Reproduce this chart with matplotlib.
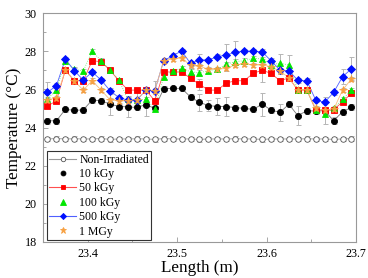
import numpy as np
import matplotlib
matplotlib.use("Agg")
import matplotlib.pyplot as plt
from matplotlib.lines import Line2D
from matplotlib.ticker import MultipleLocator

plt.rcParams['font.family'] = ['Liberation Serif', 'DejaVu Serif']

# sensor positions along the fibre (m)
length = [23.355, 23.365, 23.375, 23.385, 23.395, 23.405, 23.415, 23.425, 23.435,
          23.445, 23.455, 23.465, 23.475, 23.485, 23.495, 23.505, 23.515, 23.525,
          23.535, 23.545, 23.555, 23.565, 23.575, 23.585, 23.595, 23.605, 23.615,
          23.625, 23.635, 23.645, 23.655, 23.665, 23.675, 23.685, 23.695]

t_non = [23.40, 23.42, 23.40, 23.41, 23.40, 23.40, 23.42, 23.38, 23.40, 23.40,
         23.41, 23.40, 23.38, 23.42, 23.40, 23.40, 23.40, 23.38, 23.40, 23.40,
         23.40, 23.41, 23.40, 23.40, 23.38, 23.40, 23.40, 23.40, 23.40, 23.41,
         23.40, 23.40, 23.38, 23.40, 23.42]
t_10k = [24.35, 24.35, 24.95, 24.90, 24.92, 25.44, 25.40, 25.23, 25.10, 25.08,
         25.05, 25.20, 25.00, 26.04, 26.05, 26.05, 25.60, 25.32, 25.15, 25.10,
         25.10, 25.04, 25.00, 24.95, 25.22, 24.92, 24.79, 25.22, 24.62, 24.88,
         24.86, 24.88, 24.36, 24.82, 25.06]
t_50k = [25.12, 25.40, 27.00, 26.45, 26.45, 27.50, 27.45, 27.00, 26.45, 25.96,
         25.96, 25.96, 25.40, 26.91, 26.91, 26.91, 26.58, 26.26, 25.96, 25.96,
         26.33, 26.45, 26.45, 26.84, 27.00, 26.84, 26.45, 26.60, 25.96, 25.96,
         24.92, 24.90, 24.92, 25.35, 25.79]
t_100k = [25.50, 25.96, 27.50, 27.05, 26.96, 28.00, 27.50, 27.00, 26.47, 25.47,
          25.45, 25.48, 24.97, 26.66, 26.96, 27.10, 26.92, 26.87, 26.98, 27.05,
          27.32, 27.45, 27.50, 27.62, 27.60, 27.30, 27.36, 27.28, 25.96, 25.96,
          24.92, 24.71, 25.00, 25.48, 25.96]
t_500k = [25.84, 26.19, 27.59, 26.98, 26.49, 26.91, 26.49, 25.93, 25.56, 25.44,
          25.44, 25.96, 25.93, 27.50, 27.76, 28.01, 27.36, 27.54, 27.54, 27.71,
          27.80, 27.94, 28.01, 28.00, 27.97, 27.50, 27.01, 26.98, 26.47, 26.45,
          25.44, 25.32, 25.84, 26.66, 27.08]
t_1M = [25.45, 25.55, 27.00, 26.45, 25.96, 26.45, 25.96, 25.45, 25.40, 25.40,
        25.45, 25.96, 25.93, 27.50, 27.60, 27.65, 27.25, 27.22, 27.05, 27.05,
        27.10, 27.28, 27.33, 27.28, 27.28, 27.19, 26.95, 26.62, 25.96, 25.96,
        25.00, 24.90, 24.95, 25.96, 26.55]

e_non = [0.12] * 35
e_10k = [0.15, 0.15, 0.15, 0.15, 0.15, 0.15, 0.15, 0.55, 0.15, 0.55,
         0.15, 0.60, 0.15, 0.15, 0.15, 0.15, 0.15, 0.45, 0.30, 0.45,
         0.50, 0.15, 0.15, 0.15, 0.60, 0.15, 0.45, 0.15, 0.50, 0.15,
         0.15, 0.15, 0.20, 0.15, 0.15]
e_50k = [0.12, 0.12, 0.12, 0.12, 0.12, 0.12, 0.12, 0.12, 0.12, 0.12,
         0.12, 0.12, 0.12, 0.12, 0.12, 0.12, 0.12, 0.30, 0.12, 0.12,
         0.12, 0.12, 0.12, 0.12, 0.60, 0.12, 0.12, 0.12, 0.12, 0.12,
         0.12, 0.12, 0.12, 0.12, 0.12]
e_100k = [0.12, 0.12, 0.12, 0.12, 0.12, 0.12, 0.12, 0.12, 0.12, 0.12,
          0.12, 0.12, 0.12, 0.12, 0.12, 0.12, 0.12, 0.12, 0.12, 0.12,
          0.12, 0.12, 0.12, 0.12, 0.12, 0.12, 0.50, 0.50, 0.12, 0.12,
          0.12, 0.55, 0.12, 0.12, 0.12]
e_500k = [0.55, 0.12, 0.12, 0.12, 0.12, 0.12, 0.12, 0.12, 0.12, 0.12,
          0.12, 0.12, 0.12, 0.12, 0.12, 0.12, 0.12, 0.30, 0.12, 0.12,
          0.60, 0.60, 0.12, 0.12, 0.12, 0.12, 0.12, 0.12, 0.12, 0.12,
          0.12, 0.30, 0.12, 0.40, 0.60]
e_1M = [0.12, 0.12, 0.12, 0.12, 0.12, 0.12, 0.12, 0.12, 0.12, 0.12,
        0.40, 0.12, 0.50, 0.12, 0.12, 0.12, 0.12, 0.12, 0.12, 0.12,
        0.12, 0.12, 0.12, 0.12, 0.12, 0.12, 0.12, 0.12, 0.12, 0.12,
        0.12, 0.12, 0.12, 0.12, 0.12]

series = [
    # label, values, errors, marker, face, edge, line colour, line style, size, line in legend
    ("Non-Irradiated", t_non, e_non, "o", "white", "#555555", "#999999", "-", 4.0, True),
    ("10 kGy", t_10k, e_10k, "o", "black", "black", "#777777", "-", 4.4, False),
    ("50 kGy", t_50k, e_50k, "s", "#ff0000", "#ff0000", "#ff5050", "-", 4.1, True),
    ("100 kGy", t_100k, e_100k, "^", "#00e600", "#00e600", "#66ee66", ":", 4.9, False),
    ("500 kGy", t_500k, e_500k, "D", "#0010ff", "#0010ff", "#5060ff", "-", 3.9, True),
    ("1 MGy", t_1M, e_1M, "*", "#f7a040", "#f7a040", "#f8c080", "-", 5.8, False),
]

fig = plt.figure(figsize=(3.68, 2.78), dpi=100)
ax = fig.add_axes([0.1168, 0.1295, 0.8505, 0.8237])

handles = []
for lab, vals, errs, mk, fc, ec, lc, ls, ms, legline in series:
    ax.errorbar(length, vals, yerr=errs, fmt="none", ecolor="#b5b5b5",
                elinewidth=0.7, capsize=1.8, capthick=0.7, zorder=2)
    ax.plot(length, vals, color=lc, linestyle=ls, linewidth=0.6, zorder=3)
    ax.plot(length, vals, linestyle="none", marker=mk, markersize=ms,
            markerfacecolor=fc, markeredgecolor=ec, markeredgewidth=0.6, zorder=4)
    handles.append(Line2D([], [], color=lc if legline else "none", linewidth=0.8,
                          marker=mk, markersize=ms * 0.8, markerfacecolor=fc,
                          markeredgecolor=ec, markeredgewidth=0.6, label=lab))

ax.set_xlim(23.35, 23.70)
ax.set_ylim(18, 30)
ax.xaxis.set_major_locator(MultipleLocator(0.1))
ax.xaxis.set_minor_locator(MultipleLocator(0.05))
ax.yaxis.set_major_locator(MultipleLocator(2))
ax.yaxis.set_minor_locator(MultipleLocator(1))
ax.tick_params(which="both", direction="in", color="#999999", labelsize=8.7, pad=4.5)
ax.tick_params(which="major", length=3.5, width=0.6)
ax.tick_params(which="minor", length=2, width=0.6)
for sp in ax.spines.values():
    sp.set_color("#999999")
    sp.set_linewidth(0.8)

ax.set_xlabel("Length (m)", fontsize=12.3, labelpad=0)
ax.set_ylabel("Temperature (°C)", fontsize=12.3, labelpad=2)

leg = ax.legend(handles=handles, loc="lower left", bbox_to_anchor=(0.012, 0.009),
                borderaxespad=0, fontsize=8.5, fancybox=False, framealpha=1,
                edgecolor="#333333", handlelength=2.3, handletextpad=0.25,
                labelspacing=0.2, borderpad=0.2)
leg.get_frame().set_linewidth(0.8)

fig.savefig("out.png", dpi=100)
